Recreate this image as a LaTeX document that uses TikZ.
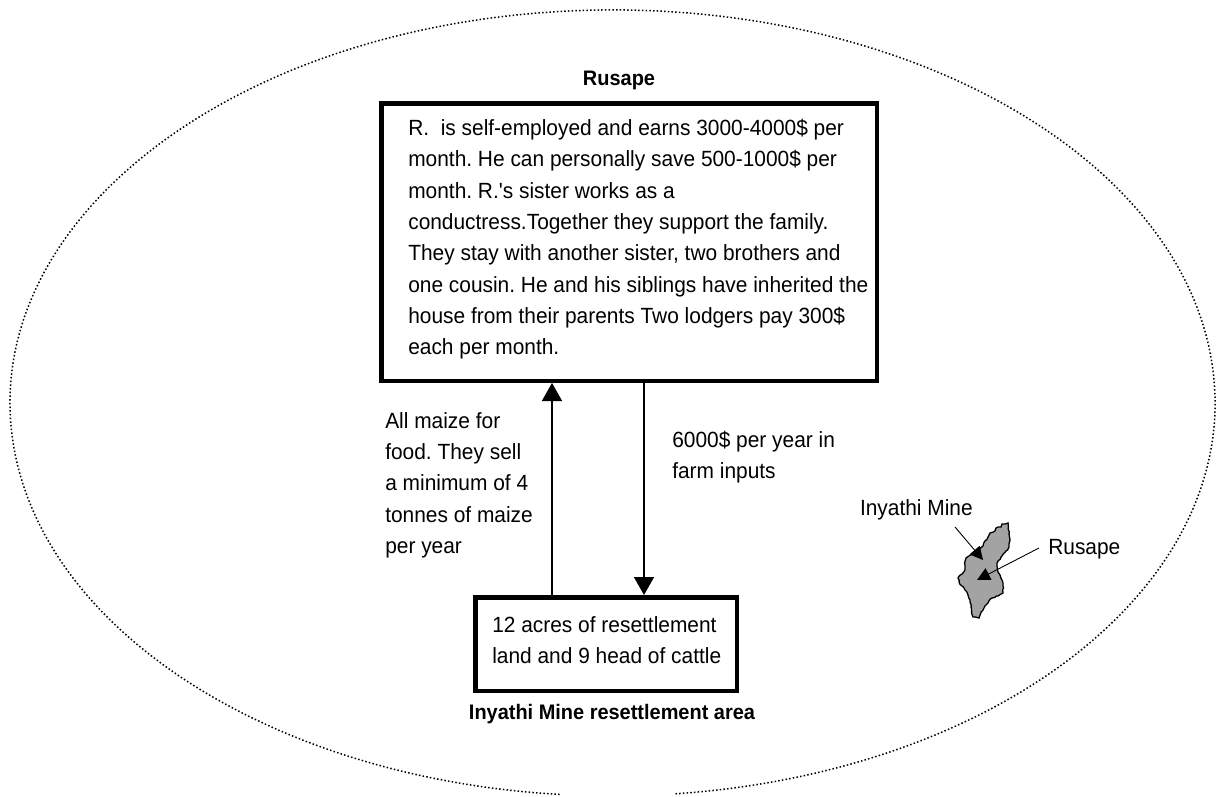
\documentclass[tikz,border=0pt]{standalone}
\usepackage{fontspec}
\setmainfont{Liberation Sans}
\newfontfamily\narrowfont[FakeStretch=0.95]{Liberation Sans}
\usetikzlibrary{positioning, arrows.meta, decorations.pathmorphing}
\frenchspacing
\begin{document}
\begin{tikzpicture}[x=1pt, y=-1pt, semithick, font=\narrowfont\fontsize{22}{31.3}\selectfont]
\tikzset{
  frame/.style={draw, line width=4.5pt, rectangle, anchor=north west, inner sep=0pt},
  caption/.style={font=\narrowfont\bfseries\fontsize{21}{24}\selectfont, inner sep=0pt},
  plain/.style={align=left, anchor=north west, inner sep=0pt},
  flow/.style={-{Triangle[length=18pt,width=20pt]}, line width=1.5pt},
  pointer/.style={-{Triangle[length=13pt,width=13pt]}, line width=0.9pt}
}
\useasboundingbox (0,0) rectangle (1216,796);
% outer ring
\draw[line width=1.5pt, dash pattern=on 1.5pt off 2.2pt] (675.5,793.8) arc[start angle=276, end angle=625, x radius=602.5pt, y radius=393pt];

% boxes
\node[frame, minimum width=495.5pt, minimum height=277.5pt] (R) at (379,101) {};
\node[frame, minimum width=261.5pt, minimum height=93.5pt] (F) at (473,595) {};
\node[caption] (Rt) at (619,80) {Rusape};
\node[caption] (Ft) at (612,714) {Inyathi Mine resettlement area};

\node[plain] (Rtxt) at (408,119) {R.\ \ is self-employed and earns 3000-4000\$ per\\
month. He can personally save 500-1000\$ per\\
month. R.'s sister works as a\\
conductress.Together they support the family.\\
They stay with another sister, two brothers and\\
one cousin. He and his siblings have inherited the\\
house from their parents Two lodgers pay 300\$\\
each per month.};
\node[plain] (Ftxt) at (492,616) {12 acres of resettlement\\land and 9 head of cattle};
\node[plain] (Up) at (385,412) {All maize for\\food. They sell\\a minimum of 4\\tonnes of maize\\per year};
\node[plain] (Dn) at (672,431) {6000\$ per year in\\farm inputs};

% flows
\draw[flow] ([xshift=-54pt]F.north) -- ([xshift=-77pt]R.south);
\draw[flow] ([xshift=15pt]R.south) -- ([xshift=38pt]F.north);

% map
\draw[fill=black!36, line width=1.3pt, decorate, decoration={random steps, segment length=2.5pt, amplitude=0.7pt}] (1008,523) -- (1002,524) -- (1001,527) -- (996,528) -- (995,531) -- (990,533) -- (988,537) -- (985,541) -- (983,546) -- (980,549) -- (976,551) -- (973,554) -- (966,558) -- (965,565) -- (965,570) -- (962,574) -- (958,578) -- (959,582) -- (962,586) -- (965,590) -- (968,595) -- (970,600) -- (971,607) -- (973,617) -- (979,618) -- (981,612) -- (984,608) -- (988,603) -- (992,598) -- (998,596) -- (1003,593) -- (1003,586) -- (1002,580) -- (1000,575) -- (998,572) -- (997,566) -- (998,561) -- (1002,556) -- (1006,551) -- (1009,547) -- (1010,540) -- (1009,534) -- cycle;
\node[inner sep=0pt, anchor=base east] (MineL) at (973,515) {Inyathi Mine};
\node[inner sep=0pt, anchor=base west] (RusL) at (1048,554) {Rusape};
\coordinate (MineS) at (955,527);
\coordinate (MineP) at (983,560);
\coordinate (RusS) at (1039,548);
\coordinate (RusP) at (977,580);
\draw[pointer] (MineS) -- (MineP);
\draw[pointer] (RusS) -- (RusP);
\end{tikzpicture}
\end{document}
